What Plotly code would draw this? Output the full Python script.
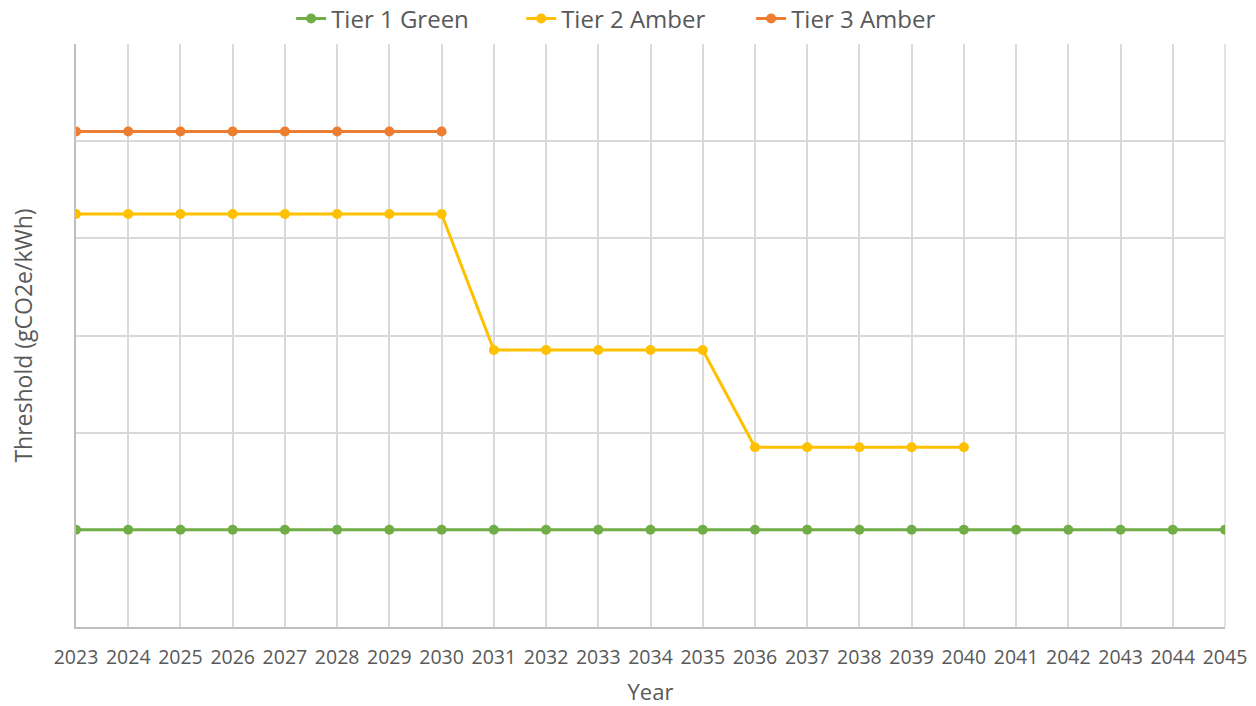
import plotly.graph_objects as go

years = list(range(2023, 2046))
tier1_green = [100] * 23
tier2_years = list(range(2023, 2041))
tier2_amber = [425] * 8 + [285] * 5 + [185] * 5
tier3_years = list(range(2023, 2031))
tier3_amber = [510] * 8

FONT = "Open Sans"
TXT = "#595959"
GRID = "#d9d9d9"

fig = go.Figure()
fig.add_trace(go.Scatter(x=years, y=tier1_green, name="Tier 1 Green", mode="lines+markers",
                         line=dict(color="#70AD47", width=3), marker=dict(size=10, color="#70AD47")))
fig.add_trace(go.Scatter(x=tier2_years, y=tier2_amber, name="Tier 2 Amber", mode="lines+markers",
                         line=dict(color="#FFC000", width=3), marker=dict(size=10, color="#FFC000")))
fig.add_trace(go.Scatter(x=tier3_years, y=tier3_amber, name="Tier 3 Amber", mode="lines+markers",
                         line=dict(color="#ED7D31", width=3), marker=dict(size=10, color="#ED7D31")))

fig.update_layout(
    width=1256, height=706,
    margin=dict(l=76, r=31, t=44, b=79, autoexpand=False),
    paper_bgcolor="white", plot_bgcolor="white",
    font=dict(family=FONT, color=TXT, size=18),
    showlegend=True,
    legend=dict(orientation="h", x=0.4875, xanchor="center", xref="paper",
                y=1.043, yanchor="middle", yref="paper",
                font=dict(size=24, color=TXT), itemwidth=30,
                entrywidth=185, entrywidthmode="pixels", traceorder="normal"),
)
fig.update_xaxes(
    range=[2023, 2045], dtick=1, tickformat="d",
    showgrid=True, gridcolor=GRID, gridwidth=1.5,
    showline=True, linecolor="#bfbfbf", linewidth=1.5, mirror=False,
    zeroline=False, ticks="", ticklabelstandoff=12,
    tickfont=dict(size=19.5, color=TXT),
    title=dict(text="Year", font=dict(size=22, color=TXT), standoff=22),
)
fig.update_yaxes(
    range=[0, 600], dtick=100,
    showgrid=True, gridcolor=GRID, gridwidth=1.5,
    showline=True, linecolor="#bfbfbf", linewidth=1.5,
    zeroline=False, showticklabels=False, ticks="",
    title=dict(text="Threshold (gCO2e/kWh)", font=dict(size=23, color=TXT), standoff=35),
)
fig.add_shape(type="line", xref="paper", yref="paper", x0=1, x1=1, y0=0, y1=1,
              line=dict(color=GRID, width=1.5), layer="below")

fig.write_html("out.html", config={"displayModeBar": False},
               post_script="document.body.style.margin='0';")
